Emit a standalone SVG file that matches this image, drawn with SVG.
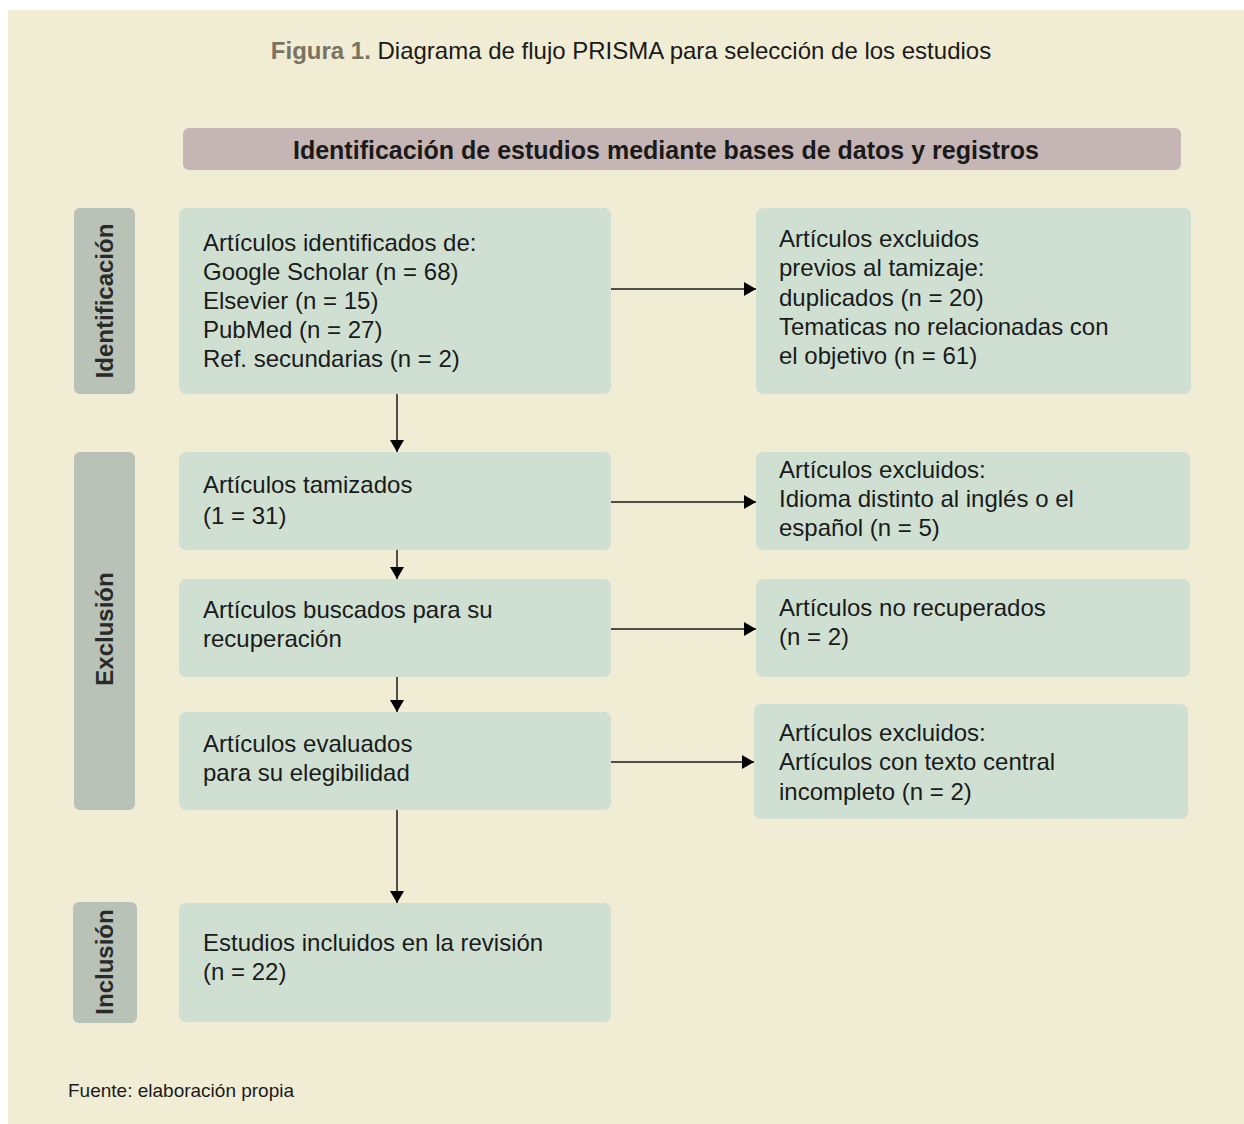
<svg xmlns="http://www.w3.org/2000/svg" width="1244" height="1124" viewBox="0 0 1244 1124">
<style>
.t{font-family:"Liberation Sans",Arial,sans-serif;font-size:24px;fill:#1a1a1a}
.side{fill:#b8c2b6}
.side text{font-family:"Liberation Sans",Arial,sans-serif;font-size:24px;font-weight:bold;fill:#2a2a2a;text-anchor:middle}
.box{fill:#cfe0d3}
.c{stroke:#1a1a1a;stroke-width:1.5;fill:none}
</style>
<defs>
<marker id="ah" viewBox="0 0 12 14" refX="12" refY="7" markerWidth="12" markerHeight="14" markerUnits="userSpaceOnUse" orient="auto">
<path d="M0,0 L12,7 L0,14 z" fill="#000"/>
</marker>
</defs>
<rect width="1244" height="1124" fill="#fff"/>
<rect x="8" y="10" width="1236" height="1114" fill="#f1ecd4"/>
<text x="631" y="59" text-anchor="middle" font-family="Liberation Sans,Arial,sans-serif" font-size="24" fill="#1a1a1a"><tspan fill="#7b7362" font-weight="bold">Figura 1.</tspan> Diagrama de flujo PRISMA para selección de los estudios</text>
<g id="header">
<rect x="183" y="128" width="998" height="42" rx="6" fill="#c6b5b5"/>
<text x="666" y="159" text-anchor="middle" font-family="Liberation Sans,Arial,sans-serif" font-size="25" font-weight="bold" fill="#1a1a1a">Identificación de estudios mediante bases de datos y registros</text>
</g>
<g id="side-identificacion" class="side">
<rect x="74" y="208" width="61" height="186" rx="6"/>
<text transform="translate(113,301) rotate(-90)">Identificación</text>
</g>
<g id="side-exclusion" class="side">
<rect x="74" y="452" width="61" height="358" rx="6"/>
<text transform="translate(113,629) rotate(-90)">Exclusión</text>
</g>
<g id="side-inclusion" class="side">
<rect x="73" y="902" width="64" height="121" rx="6"/>
<text transform="translate(113,962) rotate(-90)">Inclusión</text>
</g>
<g id="n-identificados">
<rect class="box" x="179" y="208" width="432" height="186" rx="7"/>
<text class="t" x="203" y="251">Artículos identificados de:</text>
<text class="t" x="203" y="280">Google Scholar (n = 68)</text>
<text class="t" x="203" y="309">Elsevier (n = 15)</text>
<text class="t" x="203" y="338">PubMed (n = 27)</text>
<text class="t" x="203" y="367">Ref. secundarias (n = 2)</text>
</g>
<g id="n-excluidos-previos">
<rect class="box" x="756" y="208" width="435" height="186" rx="7"/>
<text class="t" x="779" y="247">Artículos excluidos</text>
<text class="t" x="779" y="276">previos al tamizaje:</text>
<text class="t" x="779" y="306">duplicados (n = 20)</text>
<text class="t" x="779" y="335">Tematicas no relacionadas con</text>
<text class="t" x="779" y="364">el objetivo (n = 61)</text>
</g>
<g id="n-tamizados">
<rect class="box" x="179" y="452" width="432" height="98" rx="7"/>
<text class="t" x="203" y="493">Artículos tamizados</text>
<text class="t" x="203" y="524">(1 = 31)</text>
</g>
<g id="n-excluidos-idioma">
<rect class="box" x="756" y="452" width="434" height="98" rx="7"/>
<text class="t" x="779" y="478">Artículos excluidos:</text>
<text class="t" x="779" y="507">Idioma distinto al inglés o el</text>
<text class="t" x="779" y="536">español (n = 5)</text>
</g>
<g id="n-buscados">
<rect class="box" x="179" y="579" width="432" height="98" rx="7"/>
<text class="t" x="203" y="618">Artículos buscados para su</text>
<text class="t" x="203" y="647">recuperación</text>
</g>
<g id="n-no-recuperados">
<rect class="box" x="756" y="579" width="434" height="98" rx="7"/>
<text class="t" x="779" y="616">Artículos no recuperados</text>
<text class="t" x="779" y="645">(n = 2)</text>
</g>
<g id="n-evaluados">
<rect class="box" x="179" y="712" width="432" height="98" rx="7"/>
<text class="t" x="203" y="752">Artículos evaluados</text>
<text class="t" x="203" y="781">para su elegibilidad</text>
</g>
<g id="n-excluidos-texto">
<rect class="box" x="754" y="704" width="434" height="115" rx="7"/>
<text class="t" x="779" y="741">Artículos excluidos:</text>
<text class="t" x="779" y="770">Artículos con texto central</text>
<text class="t" x="779" y="800">incompleto (n = 2)</text>
</g>
<g id="n-incluidos">
<rect class="box" x="179" y="903" width="432" height="119" rx="7"/>
<text class="t" x="203" y="951">Estudios incluidos en la revisión</text>
<text class="t" x="203" y="980">(n = 22)</text>
</g>
<g id="connectors">
<line class="c" x1="611" y1="289" x2="756" y2="289" marker-end="url(#ah)"/>
<line class="c" x1="611" y1="502" x2="756" y2="502" marker-end="url(#ah)"/>
<line class="c" x1="611" y1="629" x2="756" y2="629" marker-end="url(#ah)"/>
<line class="c" x1="611" y1="762" x2="754" y2="762" marker-end="url(#ah)"/>
<line class="c" x1="397" y1="394" x2="397" y2="452" marker-end="url(#ah)"/>
<line class="c" x1="397" y1="550" x2="397" y2="579" marker-end="url(#ah)"/>
<line class="c" x1="397" y1="677" x2="397" y2="712" marker-end="url(#ah)"/>
<line class="c" x1="397" y1="810" x2="397" y2="903" marker-end="url(#ah)"/>
</g>
<text x="68" y="1097" font-family="Liberation Sans,Arial,sans-serif" font-size="19" fill="#1a1a1a">Fuente: elaboración propia</text>
</svg>
